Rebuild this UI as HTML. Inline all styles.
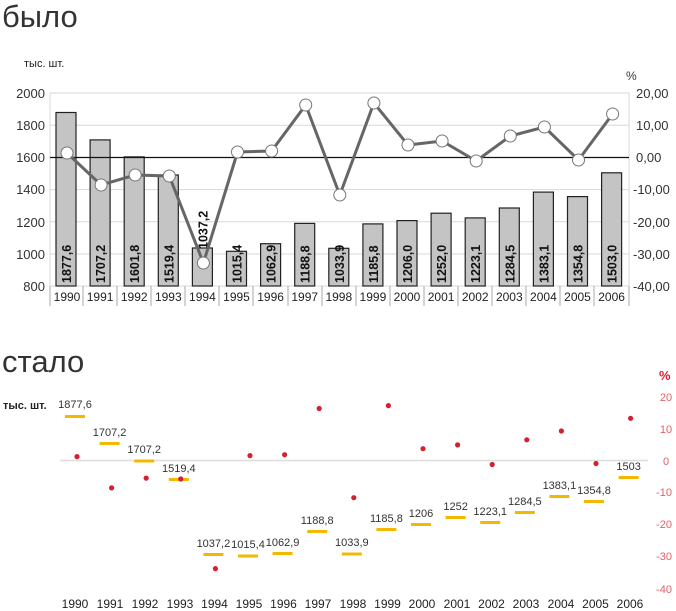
<!DOCTYPE html>
<html><head><meta charset="utf-8"><style>
body{margin:0;background:#fff;}
svg{display:block;font-family:"Liberation Sans","DejaVu Sans",sans-serif;}
</style></head><body>
<svg width="676" height="611" viewBox="0 0 676 611" xmlns="http://www.w3.org/2000/svg">
<text x="2" y="27" font-size="31" fill="#333">было</text>
<text x="24" y="67" font-size="11" fill="#222">тыс. шт.</text>
<text x="626" y="80" font-size="12" fill="#333">%</text>
<g stroke="#d8d8d8" stroke-width="1">
<line x1="50" y1="93" x2="629" y2="93"/><line x1="50" y1="125.2" x2="629" y2="125.2"/>
<line x1="50" y1="189.6" x2="629" y2="189.6"/><line x1="50" y1="221.8" x2="629" y2="221.8"/>
<line x1="50" y1="254" x2="629" y2="254"/>
<line x1="50" y1="93" x2="50" y2="286"/><line x1="629" y1="93" x2="629" y2="286"/>
<line x1="50" y1="286" x2="629" y2="286"/>
</g>
<g stroke="#aaa" stroke-width="1">
<line x1="50" y1="286" x2="50" y2="306"/><line x1="83" y1="286" x2="83" y2="306"/><line x1="117" y1="286" x2="117" y2="306"/><line x1="151" y1="286" x2="151" y2="306"/><line x1="185" y1="286" x2="185" y2="306"/><line x1="219" y1="286" x2="219" y2="306"/><line x1="253" y1="286" x2="253" y2="306"/><line x1="288" y1="286" x2="288" y2="306"/><line x1="322" y1="286" x2="322" y2="306"/><line x1="356" y1="286" x2="356" y2="306"/><line x1="390" y1="286" x2="390" y2="306"/><line x1="424" y1="286" x2="424" y2="306"/><line x1="458" y1="286" x2="458" y2="306"/><line x1="492" y1="286" x2="492" y2="306"/><line x1="526" y1="286" x2="526" y2="306"/><line x1="560" y1="286" x2="560" y2="306"/><line x1="594" y1="286" x2="594" y2="306"/><line x1="629" y1="286" x2="629" y2="306"/>
</g>
<g font-size="13" fill="#333" text-anchor="end">
<text x="45" y="98">2000</text><text x="45" y="130">1800</text><text x="45" y="162">1600</text><text x="45" y="194">1400</text><text x="45" y="227">1200</text><text x="45" y="259">1000</text><text x="45" y="291">800</text>
</g>
<g font-size="13" fill="#333">
<text x="636" y="98">20,00</text><text x="636" y="130">10,00</text><text x="636" y="162">0,00</text><text x="633" y="194">-10,00</text><text x="633" y="227">-20,00</text><text x="633" y="259">-30,00</text><text x="633" y="291">-40,00</text>
</g>
<g fill="#c4c4c4" stroke="#222" stroke-width="1.2">
<rect x="56" y="112.5" width="20" height="173.5"/><rect x="90.1" y="139.9" width="20" height="146.1"/><rect x="124.2" y="156.9" width="20" height="129.1"/><rect x="158.3" y="175" width="20" height="111"/><rect x="192.4" y="248" width="20" height="38"/><rect x="226.5" y="251.3" width="20" height="34.7"/><rect x="260.6" y="243.7" width="20" height="42.3"/><rect x="294.7" y="223.4" width="20" height="62.6"/><rect x="328.8" y="248.3" width="20" height="37.7"/><rect x="362.9" y="223.9" width="20" height="62.1"/><rect x="397" y="220.6" width="20" height="65.4"/><rect x="431.1" y="213.2" width="20" height="72.8"/><rect x="465.2" y="217.9" width="20" height="68.1"/><rect x="499.3" y="208" width="20" height="78"/><rect x="533.4" y="192.1" width="20" height="93.9"/><rect x="567.5" y="196.6" width="20" height="89.4"/><rect x="601.6" y="172.8" width="20" height="113.2"/>
</g>
<line x1="50" y1="157.5" x2="629" y2="157.5" stroke="#111" stroke-width="1.2"/>
<g font-size="12.5" font-weight="bold" fill="#111">
<text transform="translate(71,283) rotate(-90)">1877,6</text>
<text transform="translate(105.1,283) rotate(-90)">1707,2</text>
<text transform="translate(139.2,283) rotate(-90)">1601,8</text>
<text transform="translate(173.3,283) rotate(-90)">1519,4</text>
<text transform="translate(207.4,249) rotate(-90)">1037,2</text>
<text transform="translate(241.5,283) rotate(-90)">1015,4</text>
<text transform="translate(275.6,283) rotate(-90)">1062,9</text>
<text transform="translate(309.7,283) rotate(-90)">1188,8</text>
<text transform="translate(343.8,283) rotate(-90)">1033,9</text>
<text transform="translate(377.9,283) rotate(-90)">1185,8</text>
<text transform="translate(412,283) rotate(-90)">1206,0</text>
<text transform="translate(446.1,283) rotate(-90)">1252,0</text>
<text transform="translate(480.2,283) rotate(-90)">1223,1</text>
<text transform="translate(514.3,283) rotate(-90)">1284,5</text>
<text transform="translate(548.4,283) rotate(-90)">1383,1</text>
<text transform="translate(582.5,283) rotate(-90)">1354,8</text>
<text transform="translate(616.6,283) rotate(-90)">1503,0</text>
</g>
<polyline fill="none" stroke="#666" stroke-width="3" points="67,153 101.1,185 135.2,175 169.3,176 203.4,263 237.5,152 271.6,151 305.7,105 339.8,195 373.9,103 408,145 442.1,141 476.2,161 510.3,136 544.4,127 578.5,160 612.6,114"/>
<g fill="#fff" stroke="#777" stroke-width="1">
<circle cx="67" cy="153" r="6"/><circle cx="101.1" cy="185" r="6"/><circle cx="135.2" cy="175" r="6"/><circle cx="169.3" cy="176" r="6"/><circle cx="203.4" cy="263" r="6"/><circle cx="237.5" cy="152" r="6"/><circle cx="271.6" cy="151" r="6"/><circle cx="305.7" cy="105" r="6"/><circle cx="339.8" cy="195" r="6"/><circle cx="373.9" cy="103" r="6"/><circle cx="408" cy="145" r="6"/><circle cx="442.1" cy="141" r="6"/><circle cx="476.2" cy="161" r="6"/><circle cx="510.3" cy="136" r="6"/><circle cx="544.4" cy="127" r="6"/><circle cx="578.5" cy="160" r="6"/><circle cx="612.6" cy="114" r="6"/>
</g>
<g font-size="12" fill="#222" text-anchor="middle">
<text x="67" y="301">1990</text><text x="100.1" y="301">1991</text><text x="134.2" y="301">1992</text><text x="168.3" y="301">1993</text><text x="202.4" y="301">1994</text><text x="236.5" y="301">1995</text><text x="270.6" y="301">1996</text><text x="304.7" y="301">1997</text><text x="338.8" y="301">1998</text><text x="372.9" y="301">1999</text><text x="407" y="301">2000</text><text x="441.1" y="301">2001</text><text x="475.2" y="301">2002</text><text x="509.3" y="301">2003</text><text x="543.4" y="301">2004</text><text x="577.5" y="301">2005</text><text x="611.6" y="301">2006</text>
</g>

<text x="2" y="372" font-size="31" fill="#333">стало</text>
<text x="3" y="409" font-size="11" font-weight="bold" fill="#222">тыс. шт.</text>
<text x="659" y="380" font-size="13" font-weight="bold" fill="#d42030">%</text>
<line x1="60" y1="460.5" x2="648" y2="460.5" stroke="#ddd" stroke-width="1.5"/>
<g font-size="11" fill="#e0606a" text-anchor="middle">
<text x="666" y="401">20</text><text x="666" y="433">10</text><text x="666" y="465">0</text><text x="664" y="496">-10</text><text x="664" y="528">-20</text><text x="664" y="560">-30</text><text x="664" y="593">-40</text>
</g>
<g fill="#f5b800">
<rect x="65" y="415" width="20" height="3"/><rect x="99.6" y="442" width="20" height="3"/><rect x="134.2" y="459.5" width="20" height="3"/><rect x="168.8" y="478" width="20" height="3"/><rect x="203.4" y="553" width="20" height="3"/><rect x="238" y="554.5" width="20" height="3"/><rect x="272.6" y="552" width="20" height="3"/><rect x="307.2" y="530" width="20" height="3"/><rect x="341.8" y="552.5" width="20" height="3"/><rect x="376.4" y="528" width="20" height="3"/><rect x="411" y="523" width="20" height="3"/><rect x="445.6" y="516" width="20" height="3"/><rect x="480.2" y="521" width="20" height="3"/><rect x="514.8" y="511" width="20" height="3"/><rect x="549.4" y="495" width="20" height="3"/><rect x="584" y="500" width="20" height="3"/><rect x="618.6" y="476" width="20" height="3"/>
</g>
<g font-size="11" fill="#333" text-anchor="middle">
<text x="75" y="408">1877,6</text><text x="109.6" y="436">1707,2</text><text x="144.2" y="453">1707,2</text><text x="178.8" y="472">1519,4</text><text x="213.4" y="547">1037,2</text><text x="248" y="548">1015,4</text><text x="282.6" y="546">1062,9</text><text x="317.2" y="524">1188,8</text><text x="351.8" y="546">1033,9</text><text x="386.4" y="522">1185,8</text><text x="421" y="517">1206</text><text x="455.6" y="510">1252</text><text x="490.2" y="515">1223,1</text><text x="524.8" y="505">1284,5</text><text x="559.4" y="489">1383,1</text><text x="594" y="494">1354,8</text><text x="628.6" y="470">1503</text>
</g>
<g fill="#d42030">
<circle cx="77" cy="456.6" r="2.6"/><circle cx="111.6" cy="487.9" r="2.6"/><circle cx="146.2" cy="478.1" r="2.6"/><circle cx="180.8" cy="479" r="2.6"/><circle cx="215.4" cy="568.6" r="2.6"/><circle cx="250" cy="455.6" r="2.6"/><circle cx="284.6" cy="454.7" r="2.6"/><circle cx="319.2" cy="408.5" r="2.6"/><circle cx="353.8" cy="497.7" r="2.6"/><circle cx="388.4" cy="405.6" r="2.6"/><circle cx="423" cy="448.7" r="2.6"/><circle cx="457.6" cy="444.9" r="2.6"/><circle cx="492.2" cy="464.5" r="2.6"/><circle cx="526.8" cy="439.8" r="2.6"/><circle cx="561.4" cy="431" r="2.6"/><circle cx="596" cy="463.5" r="2.6"/><circle cx="630.6" cy="418.3" r="2.6"/>
</g>
<g font-size="12" fill="#222" text-anchor="middle">
<text x="75" y="608">1990</text><text x="110" y="608">1991</text><text x="145" y="608">1992</text><text x="180" y="608">1993</text><text x="214.5" y="608">1994</text><text x="249" y="608">1995</text><text x="283.5" y="608">1996</text><text x="318" y="608">1997</text><text x="353" y="608">1998</text><text x="387.5" y="608">1999</text><text x="422" y="608">2000</text><text x="457" y="608">2001</text><text x="491.5" y="608">2002</text><text x="526" y="608">2003</text><text x="561" y="608">2004</text><text x="595.5" y="608">2005</text><text x="630" y="608">2006</text>
</g>
</svg>
</body></html>
